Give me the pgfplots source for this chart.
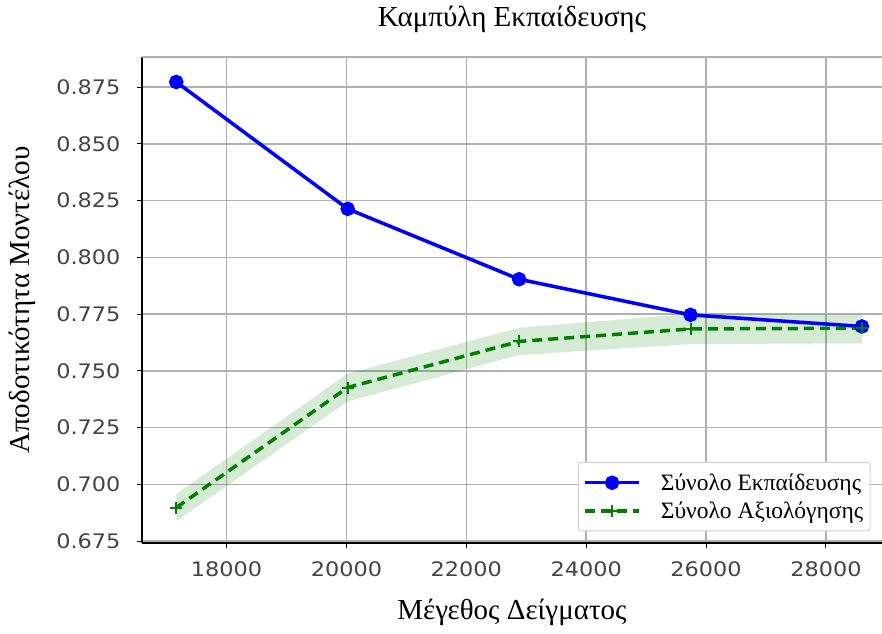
\documentclass[border=0pt]{standalone}
\usepackage{pgfplots}
\pgfplotsset{compat=1.18}
\usepackage{fontspec}
\setmainfont{Liberation Serif}
\newfontfamily\ticksfont[FakeStretch=1.12]{DejaVu Sans}
\definecolor{mplblue}{RGB}{0,0,255}
\definecolor{mplgreen}{RGB}{0,128,0}
\definecolor{gridgray}{RGB}{176,176,176}
\definecolor{ticktext}{RGB}{68,68,68}
\begin{document}
\begin{tikzpicture}
\useasboundingbox (-142pt,-90pt) rectangle (740pt,543pt);
\begin{axis}[
  scale only axis,
  width=740pt, height=486pt,
  xmin=16588, xmax=28935,
  ymin=0.6742, ymax=0.8883,
  xtick={18000,20000,22000,24000,26000,28000},
  ytick={0.675,0.7,0.725,0.75,0.775,0.8,0.825,0.85,0.875},
  scaled x ticks=false, scaled y ticks=false,
  xticklabel style={/pgf/number format/.cd, fixed, set thousands separator={}, assume math mode=true},
  yticklabel style={/pgf/number format/.cd, fixed, fixed zerofill, precision=3, assume math mode=true},
  tick label style={font=\ticksfont\fontsize{20}{20}\selectfont, text=ticktext},
  xtick pos=bottom, ytick pos=left,
  tick align=outside,
  major tick length=5pt,
  every tick/.style={black, line width=1pt},
  grid=major,
  major grid style={gridgray, line width=1.6pt},
  axis x line*=bottom, axis y line*=left,
  axis line style={black, line width=1.5pt, -},
  xticklabel shift=10pt, yticklabel shift=13pt,
  title={Καμπύλη Εκπαίδευσης},
  title style={at={(axis description cs:0.5,1.066)}, anchor=center, font=\fontsize{29}{29}\selectfont},
  xlabel={Μέγεθος Δείγματος},
  xlabel style={at={(axis description cs:0.5,-0.142)}, anchor=center, font=\fontsize{29}{29}\selectfont},
  ylabel={Αποδοτικότητα Μοντέλου},
  ylabel style={at={(axis description cs:-0.162,0.5)}, anchor=center, rotate=0, font=\fontsize{29}{29}\selectfont},
  legend style={at={(axis description cs:0.589,0.024)}, anchor=south west,
    draw=gray!35, fill=white, line width=1pt, rounded corners=2pt,
    font=\fontsize{23.5}{23.5}\selectfont, row sep=6pt,
    inner xsep=5pt, inner ysep=9pt,
    /tikz/every odd column/.append style={column sep=18pt}},
  legend cell align=left,
  legend image code/.code={\draw[#1, mark repeat=2, mark phase=2] plot coordinates {(0pt,0pt) (27pt,0pt) (54pt,0pt)};},
]
\addplot[draw=none, fill=mplblue, fill opacity=0.15, forget plot] coordinates {
  (17160,0.8780) (20020,0.8222) (22880,0.7912) (25740,0.7755) (28600,0.7704)
  (28600,0.7688) (25740,0.7739) (22880,0.7896) (20020,0.8206) (17160,0.8764)} -- cycle;
\addplot[draw=none, fill=mplgreen, fill opacity=0.16, forget plot] coordinates {
  (17160,0.6958) (20020,0.7488) (22880,0.7690) (25740,0.7752) (28600,0.7748)
  (28600,0.7622) (25740,0.7618) (22880,0.7570) (20020,0.7366) (17160,0.6838)} -- cycle;
\addplot[mplblue, line width=3.5pt, mark=*, mark size=5.5pt, mark options={solid}] coordinates {
  (17160,0.8773) (20020,0.8214) (22880,0.7904) (25740,0.7747) (28600,0.7696)};
\addlegendentry{Σύνολο Εκπαίδευσης}
\addplot[mplgreen, line width=3.5pt, dash pattern=on 10pt off 6pt, mark=+, mark size=6pt, mark options={solid, line width=2pt}] coordinates {
  (17160,0.6898) (20020,0.7427) (22880,0.7630) (25740,0.7685) (28600,0.7688)};
\addlegendentry{Σύνολο Αξιολόγησης}
\draw[gridgray, line width=1.5pt] (rel axis cs:0,1) -- (rel axis cs:1,1);
\end{axis}
\end{tikzpicture}
\end{document}
